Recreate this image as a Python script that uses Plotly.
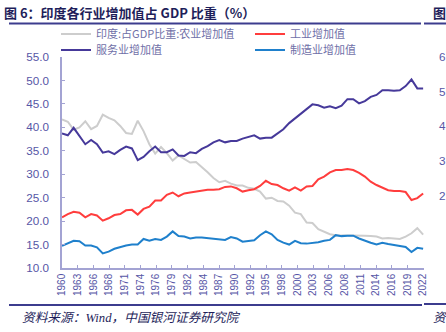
import plotly.graph_objects as go
import numpy as np

# ---------------- data ----------------
years = list(range(1960, 2023))

agri = [41.7, 41.2, 39.5, 40.0, 41.3, 39.6, 40.3, 42.7, 42.0, 41.5,
        40.3, 38.8, 38.6, 41.4, 39.2, 36.4, 34.4, 35.8, 34.5, 32.9,
        34.0, 33.3, 32.5, 32.6, 31.6, 30.4, 29.2, 28.3, 28.6, 28.0,
        27.6, 27.6, 27.1, 26.9, 26.3, 24.8, 25.0, 24.3, 24.2, 23.3,
        21.8, 21.5, 19.7, 19.6, 18.3, 17.8, 17.2, 17.0, 17.0, 17.0,
        17.0, 17.0, 16.9, 16.8, 16.7, 16.3, 16.4, 16.3, 16.2, 16.7,
        17.4, 18.5, 17.1]

industry = [20.8, 21.5, 22.0, 21.8, 20.8, 21.5, 21.2, 20.1, 20.6, 21.3,
            21.5, 22.3, 22.4, 21.4, 22.6, 23.1, 24.4, 24.4, 25.6, 26.1,
            25.3, 25.9, 26.1, 26.3, 26.6, 26.7, 26.7, 26.8, 27.3, 27.4,
            27.0, 26.3, 26.6, 26.8, 27.5, 28.6, 27.9, 27.7, 27.0, 26.5,
            27.2, 26.5, 27.4, 27.5, 28.9, 29.5, 30.4, 30.9, 30.9, 31.1,
            30.9, 30.3, 29.5, 28.4, 27.7, 27.2, 26.6, 26.4, 26.4, 26.2,
            24.5, 24.9, 25.9]

services = [38.7, 38.3, 39.9, 38.1, 36.4, 37.3, 36.4, 34.6, 34.9, 34.3,
            35.2, 35.9, 35.5, 33.0, 33.7, 34.9, 35.9, 34.7, 34.7, 35.3,
            34.0, 33.9, 34.7, 34.5, 35.4, 36.0, 36.8, 37.3, 36.8, 37.1,
            37.1, 37.6, 37.9, 38.3, 37.6, 37.8, 37.8, 38.7, 39.6, 40.9,
            41.9, 42.9, 43.9, 44.9, 44.7, 44.2, 44.5, 44.1, 44.6, 46.0,
            46.0, 45.1, 45.6, 46.5, 46.9, 47.9, 47.9, 47.8, 47.9, 48.8,
            50.2, 48.3, 48.3]

manuf = [14.7, 15.3, 15.8, 15.7, 14.8, 14.8, 14.4, 13.1, 13.5, 14.1,
         14.5, 14.8, 15.0, 15.0, 16.2, 15.8, 16.2, 16.0, 16.7, 17.8,
         16.8, 16.7, 16.3, 16.5, 16.5, 16.4, 16.2, 16.2, 16.0, 16.6,
         16.3, 15.6, 15.7, 15.9, 17.0, 17.8, 17.2, 16.0, 15.4, 15.0,
         15.8, 15.3, 15.2, 15.3, 15.5, 15.8, 16.0, 17.0, 16.8, 16.9,
         16.9, 16.3, 15.8, 15.4, 15.0, 15.4, 15.1, 14.9, 14.7, 14.5,
         13.4, 14.3, 14.1]

series_names = ["印度:占GDP比重:农业增加值", "工业增加值", "服务业增加值", "制造业增加值"]
x_tick_labels = ["1960", "1963", "1966", "1968", "1971", "1974", "1976", "1979",
                 "1982", "1984", "1987", "1990", "1992", "1995", "1998", "2000",
                 "2003", "2006", "2008", "2011", "2014", "2016", "2019", "2022"]
y_ticks = [10, 15, 20, 25, 30, 35, 40, 45, 50, 55]
right_panel_labels = ["6", "5", "4", "3", "2"]

title_text = "图 6：印度各行业增加值占 GDP 比重（%）"
source_text = "资料来源：Wind，中国银河证券研究院"

# ---------------- layout helpers ----------------
W, H = 446, 332
L, R, T, B = 62, 22, 57, 64
PW, PH = W - L - R, H - T - B


def px2x(px):
    return (px - L) / PW


def py2y(py):
    return (H - B - py) / PH


colors = ["#CDCDCD", "#FF3D3D", "#46399A", "#1F80CC"]
legend_ids = ["legend", "legend2", "legend3", "legend4"]
legend_pos = [(56, 34), (250, 34), (56, 50), (250, 50)]
AX = "#A3A3D3"
TXT = "#5656A6"
NAVY = "#1E1E5A"

fig = go.Figure()
for name, vals, col, lg in zip(series_names, [agri, industry, services, manuf], colors, legend_ids):
    fig.add_trace(go.Scatter(x=years, y=vals, mode="lines", name=name, legend=lg,
                             line=dict(color=col, width=2)))

tickvals = np.linspace(years[0], years[-1], len(x_tick_labels))

legend_common = dict(orientation="h", xanchor="left", yanchor="middle",
                     font=dict(family="Noto Sans CJK SC", size=11, color="#7070A8"),
                     bgcolor="rgba(0,0,0,0)", borderwidth=0, itemwidth=30)
legend_layout = {}
for lg, (lx, ly) in zip(legend_ids, legend_pos):
    legend_layout[lg] = dict(x=px2x(lx), y=py2y(ly), **legend_common)

fig.update_layout(
    width=W, height=H,
    margin=dict(l=L, r=R, t=T, b=B, pad=0),
    paper_bgcolor="white", plot_bgcolor="white",
    font=dict(family="Liberation Sans, Noto Sans CJK SC", color=TXT),
    showlegend=True,
    xaxis=dict(range=[1960, 2022.15], tickvals=tickvals, ticktext=x_tick_labels,
               tickangle=-90, ticks="inside", ticklen=3, tickcolor=AX,
               showline=True, linecolor=AX, linewidth=1.5, showgrid=False,
               zeroline=False, tickfont=dict(size=10, color=TXT, family="Liberation Sans")),
    yaxis=dict(range=[10, 55], tickvals=y_ticks, tickformat=".1f",
               ticks="inside", ticklen=3, tickcolor=AX, ticklabelstandoff=9,
               showline=True, linecolor=AX, linewidth=1.5, showgrid=False,
               zeroline=False, tickfont=dict(size=11.7, color=TXT, family="Liberation Sans")),
    **legend_layout,
)

shapes = [
    dict(type="line", xref="paper", yref="paper", x0=px2x(9), x1=px2x(421),
         y0=py2y(23.5), y1=py2y(23.5), line=dict(color="#3C3C8E", width=2)),
    dict(type="line", xref="paper", yref="paper", x0=px2x(424), x1=px2x(446),
         y0=py2y(23.5), y1=py2y(23.5), line=dict(color="#3C3C8E", width=2)),
    dict(type="line", xref="paper", yref="paper", x0=px2x(9), x1=px2x(422),
         y0=py2y(305), y1=py2y(305), line=dict(color="#3C3C8E", width=2)),
    dict(type="line", xref="paper", yref="paper", x0=px2x(424), x1=px2x(446),
         y0=py2y(304), y1=py2y(304), line=dict(color="#3C3C8E", width=2)),
]
fig.update_layout(shapes=shapes)

ann = [
    dict(text="<b>" + title_text + "</b>", x=px2x(2), y=py2y(12.5), xref="paper", yref="paper",
         xanchor="left", yanchor="middle", showarrow=False,
         font=dict(family="Noto Sans CJK SC", size=13, color=NAVY)),
    dict(text="<i>" + source_text + "</i>", x=px2x(20), y=py2y(318), xref="paper", yref="paper",
         xanchor="left", yanchor="middle", showarrow=False,
         font=dict(family="Liberation Serif, Noto Sans CJK SC", size=12.7, color=NAVY)),
    dict(text="<b>图</b>", x=px2x(431), y=py2y(12.5), xref="paper", yref="paper",
         xanchor="left", yanchor="middle", showarrow=False,
         font=dict(family="Noto Sans CJK SC", size=13, color=NAVY)),
    dict(text="<i>资</i>", x=px2x(431), y=py2y(318), xref="paper", yref="paper",
         xanchor="left", yanchor="middle", showarrow=False,
         font=dict(family="Liberation Serif, Noto Sans CJK SC", size=12.7, color=NAVY)),
]
for i, lab in enumerate(right_panel_labels):
    ann.append(dict(text=lab, x=px2x(437), y=py2y(56.5 + 34.7 * i), xref="paper", yref="paper",
                    xanchor="left", yanchor="middle", showarrow=False,
                    font=dict(family="Liberation Sans", size=11.7, color=TXT)))
fig.update_layout(annotations=ann)

fig.write_html("out.html")
